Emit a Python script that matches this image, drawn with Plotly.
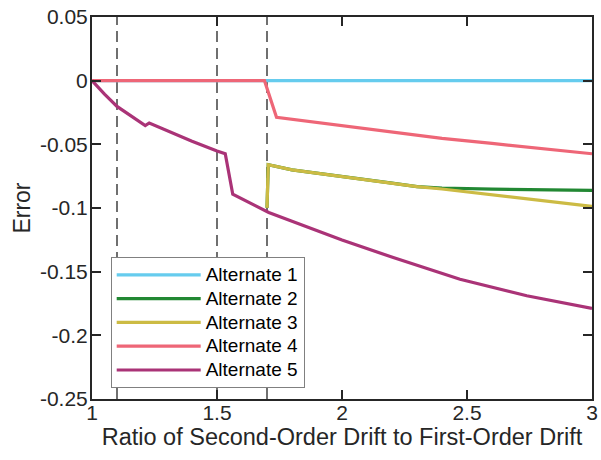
import plotly.graph_objects as go

# ---- data ----
thresholds = [1.1, 1.5, 1.7]

alt1_x = [1.0, 3.0]
alt1_y = [0.0, 0.0]

alt2_x = [1.7, 1.705, 1.8, 2.0, 2.2, 2.3, 2.4, 2.6, 2.8, 3.0]
alt2_y = [-0.0999, -0.0660, -0.0700, -0.0750, -0.0805, -0.0832, -0.0843, -0.0852, -0.0858, -0.0861]

alt3_x = [1.7, 1.705, 1.8, 2.0, 2.2, 2.3, 2.4, 2.6, 2.8, 3.0]
alt3_y = [-0.0999, -0.0660, -0.0700, -0.0751, -0.0807, -0.0832, -0.0851, -0.0896, -0.0942, -0.0988]

alt4_x = [1.0, 1.69, 1.738, 1.8, 2.0, 2.2, 2.4, 2.6, 2.8, 3.0]
alt4_y = [0.0, 0.0, -0.0288, -0.0303, -0.0353, -0.0403, -0.0453, -0.0493, -0.0534, -0.0574]

alt5_x = [1.0, 1.05, 1.1, 1.15, 1.213, 1.229, 1.3, 1.4, 1.5, 1.533, 1.563, 1.6, 1.672,
          1.707, 1.8, 1.939, 2.0, 2.205, 2.472, 2.739, 3.0]
alt5_y = [0.0, -0.0106, -0.0202, -0.0272, -0.0353, -0.0332, -0.0394, -0.0475, -0.0553, -0.0574,
          -0.0892, -0.0928, -0.0998, -0.1035, -0.1104, -0.1207, -0.1252, -0.1389, -0.1559, -0.1689, -0.1788]

series_names = ["Alternate 1", "Alternate 2", "Alternate 3", "Alternate 4", "Alternate 5"]
series_colors = ["#66CCEE", "#228833", "#CCBB44", "#EE6677", "#AA3377"]

x_tickvals = [1, 1.5, 2, 2.5, 3]
x_ticktext = ["1", "1.5", "2", "2.5", "3"]
y_tickvals = [0.05, 0, -0.05, -0.1, -0.15, -0.2, -0.25]
y_ticktext = ["0.05", "0", "-0.05", "-0.1", "-0.15", "-0.2", "-0.25"]

x_title = "Ratio of Second-Order Drift to First-Order Drift"
y_title = "Error"

# ---- figure ----
fig = go.Figure()

for t in thresholds:
    fig.add_trace(go.Scatter(
        x=[t, t], y=[y_tickvals[-1], y_tickvals[0]], mode="lines",
        line=dict(color="#4d4d4d", width=1.6, dash="11px,6px"),
        showlegend=False, hoverinfo="skip"))

all_x = [alt1_x, alt2_x, alt3_x, alt4_x, alt5_x]
all_y = [alt1_y, alt2_y, alt3_y, alt4_y, alt5_y]
for name, color, xs, ys in zip(series_names, series_colors, all_x, all_y):
    fig.add_trace(go.Scatter(x=xs, y=ys, mode="lines",
                             name=f"<span style='font-size:19px'>{name}</span>",
                             line=dict(color=color, width=3.2)))

FONT = "Liberation Sans, Arial, sans-serif"
axis_common = dict(
    showline=True, linecolor="#262626", linewidth=2, mirror="allticks",
    ticks="inside", ticklen=9, tickwidth=2, tickcolor="#262626",
    showgrid=False, zeroline=False, automargin=False, ticklabeloverflow="allow",
    tickfont=dict(family=FONT, size=21, color="#262626"),
)

fig.update_layout(
    width=601, height=460,
    margin=dict(l=92, r=9, t=17, b=61, autoexpand=False),
    paper_bgcolor="white", plot_bgcolor="white",
    font=dict(family=FONT, color="#262626"),
    xaxis=dict(range=[1, 3], tickvals=x_tickvals, ticktext=x_ticktext,
               ticklabelstandoff=-6,
               title=dict(text=x_title, font=dict(size=23.5), standoff=4),
               **axis_common),
    yaxis=dict(range=[-0.25, 0.05], tickvals=y_tickvals, ticktext=y_ticktext,
               ticklabelstandoff=-2,
               title=dict(text=y_title, font=dict(size=23), standoff=3),
               **axis_common),
    legend=dict(x=0.0374, y=0.372, xanchor="left", yanchor="top",
                bgcolor="white", bordercolor="#808080", borderwidth=1,
                font=dict(family=FONT, size=16, color="black"), itemwidth=84,
                tracegroupgap=0),
    showlegend=True,
)

fig.write_html("out.html", config={"displayModeBar": False},
               post_script="document.body.style.margin='0px';")
